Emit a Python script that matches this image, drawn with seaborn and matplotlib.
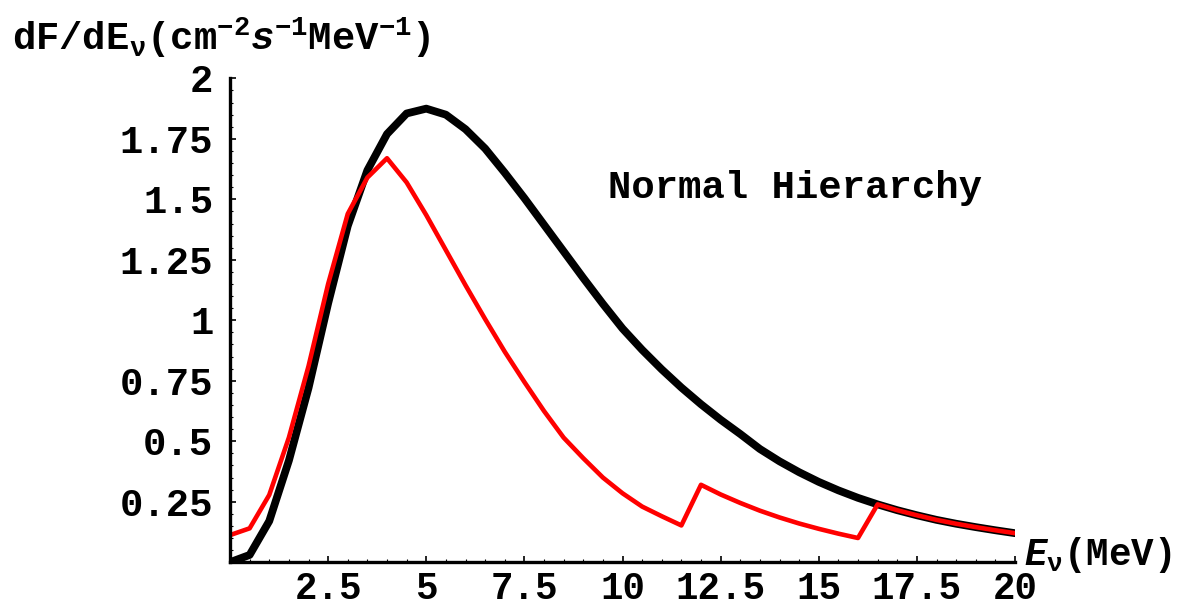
import matplotlib
matplotlib.use("Agg")
import matplotlib.pyplot as plt
from matplotlib.ticker import MultipleLocator, FixedLocator
import seaborn as sns
import pandas as pd

# ---- data ----
energy = [0.0, 0.5, 1.0, 1.5, 2.0, 2.5, 3.0, 3.5, 4.0, 4.5,
          5.0, 5.5, 6.0, 6.5, 7.0, 7.5, 8.0, 8.5, 9.0, 9.5,
          10.0, 10.5, 11.0, 11.5, 12.0, 12.5, 13.0, 13.5, 14.0, 14.5,
          15.0, 15.5, 16.0, 16.5, 17.0, 17.5, 18.0, 18.5, 19.0, 19.5, 20.0]

flux_black = [0.00, 0.03, 0.17, 0.42, 0.72, 1.07, 1.39, 1.62, 1.77, 1.855,
              1.875, 1.85, 1.79, 1.71, 1.61, 1.505, 1.395, 1.285, 1.175, 1.068,
              0.966, 0.878, 0.797, 0.722, 0.653, 0.589, 0.530, 0.468, 0.417, 0.372,
              0.332, 0.297, 0.266, 0.239, 0.215, 0.194, 0.175, 0.159, 0.145, 0.132, 0.120]

flux_red = [0.112, 0.14, 0.278, 0.515, 0.81, 1.15, 1.44, 1.59, 1.67, 1.57,
            1.435, 1.29, 1.145, 1.005, 0.87, 0.745, 0.625, 0.515, 0.43, 0.35,
            0.285, 0.23, 0.19, 0.152, 0.32, 0.28, 0.245, 0.213, 0.185, 0.16,
            0.138, 0.118, 0.100, 0.239, 0.215, 0.194, 0.175, 0.159, 0.145, 0.132, 0.120]

x_ticks = [2.5, 5, 7.5, 10, 12.5, 15, 17.5, 20]
x_tick_labels = ["2.5", "5", "7.5", "10", "12.5", "15", "17.5", "20"]
y_ticks = [0.25, 0.5, 0.75, 1.0, 1.25, 1.5, 1.75, 2.0]
y_tick_labels = ["0.25", "0.5", "0.75", "1", "1.25", "1.5", "1.75", "2"]

df = pd.DataFrame({"E": energy, "black": flux_black, "red": flux_red})

# ---- style ----
sns.set_theme(style="white")
plt.rcParams["font.family"] = ["Liberation Mono", "DejaVu Sans"]
plt.rcParams["font.weight"] = "bold"
plt.rcParams["mathtext.fontset"] = "custom"
plt.rcParams["mathtext.rm"] = "Liberation Mono:bold"
plt.rcParams["mathtext.it"] = "Liberation Mono:bold:italic"
plt.rcParams["mathtext.bf"] = "Liberation Mono:bold"
plt.rcParams["mathtext.default"] = "rm"

W, H = 1193, 611
fig = plt.figure(figsize=(W / 100, H / 100), dpi=100)
x0, x1 = 230, 1015
y0, y1 = 562.2, 78.4
ax = fig.add_axes([x0 / W, (H - y0) / H, (x1 - x0) / W, (y0 - y1) / H])

sns.lineplot(data=df, x="E", y="black", color="black", linewidth=5.6, ax=ax,
             sort=False)
sns.lineplot(data=df, x="E", y="red", color="#ff0000", linewidth=3.3, ax=ax,
             sort=False)

ax.set_xlim(0, 20)
ax.set_ylim(0, 2)
for s in ["top", "right"]:
    ax.spines[s].set_visible(False)
for s in ["left", "bottom"]:
    ax.spines[s].set_linewidth(2.4)
    ax.spines[s].set_color("black")

ax.xaxis.set_major_locator(FixedLocator(x_ticks))
ax.set_xticklabels(x_tick_labels)
ax.yaxis.set_major_locator(FixedLocator(y_ticks))
ax.set_yticklabels(y_tick_labels)
ax.xaxis.set_minor_locator(MultipleLocator(0.5))
ax.yaxis.set_minor_locator(MultipleLocator(0.05))
ax.tick_params(axis="both", which="major", direction="in", length=4.5, width=1.2,
               color="black", labelsize=28, labelcolor="black")
ax.tick_params(axis="both", which="minor", direction="in", length=2.5, width=0.8,
               color="black")
ax.tick_params(axis="x", which="major", pad=6, labelsize=27)
ax.tick_params(axis="y", which="major", pad=12)
ax.tick_params(bottom=True, left=True, which="both")
for lab in ax.get_xticklabels() + ax.get_yticklabels():
    lab.set_fontweight("bold")
ax.set_xlabel("")
ax.set_ylabel("")
ax.grid(False)

ax.text(9.62, 1.547, "Normal Hierarchy", fontsize=28, fontweight="bold",
        va="center", ha="left", color="black")

ax.text(1.011, 0.014, r"$\mathit{E}_{\nu}$(MeV)", transform=ax.transAxes,
        fontsize=27, fontweight="bold", va="center", ha="left", color="black")

fig.text(12 / W, (H - 38) / H,
         r"dF/dE$_{\nu}$(cm$^{-2}$$\mathit{s}$$^{-1}$MeV$^{-1}$)",
         fontsize=28, fontweight="bold", va="center", ha="left", color="black")

fig.savefig("out.png", dpi=100, facecolor="white")
